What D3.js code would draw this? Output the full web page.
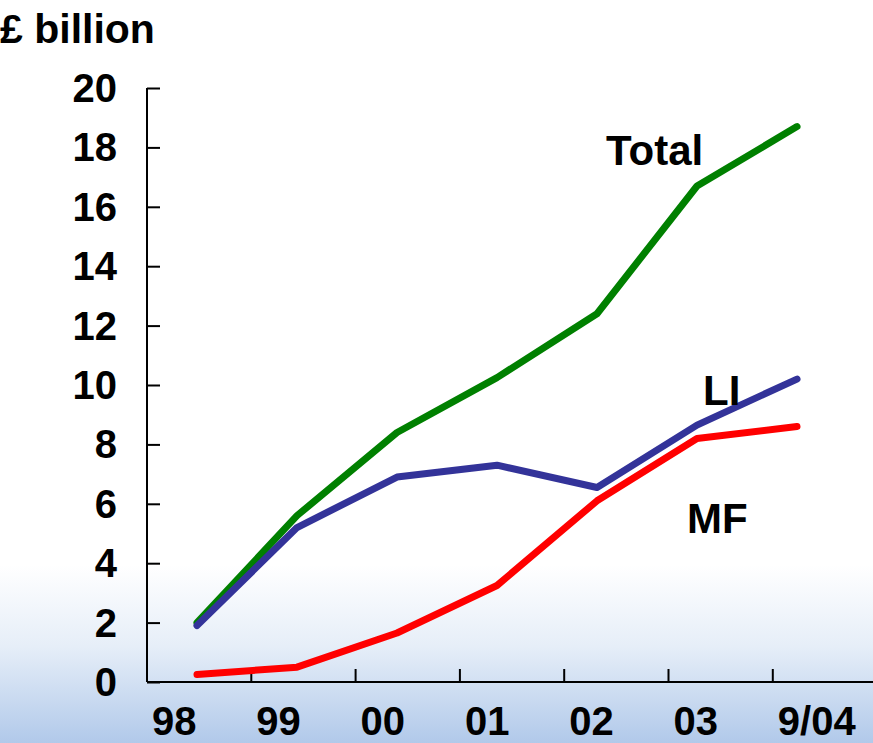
<!DOCTYPE html>
<html>
<head>
<meta charset="utf-8">
<script src="https://cdn.jsdelivr.net/npm/d3@7"></script>
<style>
  body { margin: 0; background: #fff; }
  svg { display: block; font-family: "Liberation Sans", Arial, sans-serif; font-weight: bold; }
</style>
</head>
<body>
<div id="chart"></div>
<script>
// data
const years = ["98", "99", "00", "01", "02", "03", "9/04"];
const total = [2.0, 5.6, 8.4, 10.25, 12.4, 16.7, 18.7];
const li    = [1.9, 5.2, 6.9, 7.3, 6.55, 8.65, 10.2];
const mf    = [0.25, 0.5, 1.65, 3.25, 6.1, 8.2, 8.6];
const yTicks = [0, 2, 4, 6, 8, 10, 12, 14, 16, 18, 20];

const series = [
    {name: "Total", values: total, color: "#008000", lx: 606, ly: 165},
    {name: "LI",    values: li,    color: "#333399", lx: 703, ly: 405},
    {name: "MF",    values: mf,    color: "#ff0000", lx: 687, ly: 533}
];

const W = 873, H = 743;
const svg = d3.select("#chart").append("svg")
    .attr("width", W)
    .attr("height", H);

// background fade to light blue at the bottom
const defs = svg.append("defs");
const grad = defs.append("linearGradient")
    .attr("id", "bg").attr("x1", 0).attr("y1", 0).attr("x2", 0).attr("y2", 1);
grad.append("stop").attr("offset", "0").attr("stop-color", "#ffffff");
grad.append("stop").attr("offset", "0.76").attr("stop-color", "#ffffff");
grad.append("stop").attr("offset", "0.87").attr("stop-color", "#e6eef8");
grad.append("stop").attr("offset", "1").attr("stop-color", "#b1c9ea");
svg.append("rect").attr("width", W).attr("height", H).attr("fill", "url(#bg)");

const x0 = 147, y0 = 682;

// y scale
const y = d3.scaleLinear().domain([0, 20]).range([y0, 88]);

// category slots for ticks / labels
const xTick = d3.scaleBand().domain(years).range([x0, x0 + 7 * 104.3]);
// data points sit on their own spacing
const xPt = d3.scalePoint().domain(years).range([197, 797]);

// y axis
const yAxis = svg.append("g")
    .attr("transform", "translate(" + x0 + ",0)")
    .call(d3.axisRight(y).tickValues(yTicks).tickSize(13).tickFormat(""));
yAxis.select(".domain").attr("d", "M0," + y(20) + "V" + y0).attr("stroke", "#000").attr("stroke-width", 2);
yAxis.selectAll(".tick line").attr("stroke", "#000").attr("stroke-width", 2);

svg.selectAll(".ylab").data(yTicks).enter().append("text")
    .attr("class", "ylab")
    .attr("x", x0 - 30)
    .attr("y", d => y(d))
    .attr("dy", "0.35em")
    .attr("text-anchor", "end")
    .attr("font-size", 40)
    .text(d => d);

// x axis
svg.append("line")
    .attr("x1", x0).attr("x2", W)
    .attr("y1", y0).attr("y2", y0)
    .attr("stroke", "#000").attr("stroke-width", 2);

svg.selectAll(".xtick").data(years.slice(1)).enter().append("line")
    .attr("class", "xtick")
    .attr("x1", d => xTick(d)).attr("x2", d => xTick(d))
    .attr("y1", y0).attr("y2", y0 - 13)
    .attr("stroke", "#000").attr("stroke-width", 2);

svg.selectAll(".xlab").data(years).enter().append("text")
    .attr("class", "xlab")
    .attr("x", d => xTick(d) + 5)
    .attr("y", 735)
    .attr("font-size", 40)
    .text(d => d);

// axis title
svg.append("text")
    .attr("x", 0)
    .attr("y", 43)
    .attr("font-size", 41)
    .text("£ billion");

// lines
const line = d3.line()
    .x((d, i) => xPt(years[i]))
    .y(d => y(d));

svg.selectAll(".series").data(series).enter().append("path")
    .attr("class", "series")
    .attr("d", d => line(d.values))
    .attr("fill", "none")
    .attr("stroke", d => d.color)
    .attr("stroke-width", 7)
    .attr("stroke-linecap", "round")
    .attr("stroke-linejoin", "round");

// series labels
svg.selectAll(".slab").data(series).enter().append("text")
    .attr("class", "slab")
    .attr("x", d => d.lx)
    .attr("y", d => d.ly)
    .attr("font-size", 42)
    .text(d => d.name);
</script>
</body>
</html>
